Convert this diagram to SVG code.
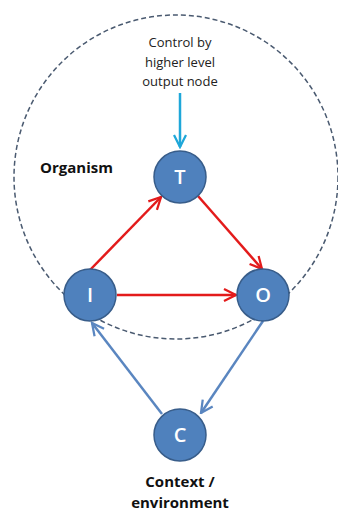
<svg xmlns="http://www.w3.org/2000/svg" width="338" height="514" viewBox="0 0 338 514">
<style>
.node{fill:#4f81bd;stroke:#385d8a;stroke-width:1.5}
.nl{font-family:"Open Sans","Liberation Sans",sans-serif;font-size:20px;font-weight:600;fill:#fff;text-anchor:middle}
.lbl{font-family:"Open Sans","Liberation Sans",sans-serif;font-size:13px;fill:#222;text-anchor:middle}
.bold{font-family:"Open Sans","Liberation Sans",sans-serif;font-size:15px;font-weight:bold;fill:#111}
.red{stroke:#e31b1b;stroke-width:2.5;fill:none}
.blue{stroke:#5a86c0;stroke-width:2.5;fill:none}
.cyan{stroke:#1ea7d9;stroke-width:2.5;fill:none}
</style>
<defs>
<marker id="ar" viewBox="0 0 10 10" refX="9" refY="5" markerWidth="6" markerHeight="6" orient="auto" markerUnits="strokeWidth"><path d="M1,1 L9,5 L1,9" fill="none" stroke="#e31b1b" stroke-width="1.5"/></marker>
<marker id="ab" viewBox="0 0 10 10" refX="9" refY="5" markerWidth="6" markerHeight="6" orient="auto" markerUnits="strokeWidth"><path d="M1,1 L9,5 L1,9" fill="none" stroke="#5a86c0" stroke-width="1.5"/></marker>
<marker id="ac" viewBox="0 0 10 10" refX="9" refY="5" markerWidth="6" markerHeight="6" orient="auto" markerUnits="strokeWidth"><path d="M1,1 L9,5 L1,9" fill="none" stroke="#1ea7d9" stroke-width="1.5"/></marker>
</defs>
<g id="organism-boundary">
<circle cx="176" cy="177" r="162" fill="none" stroke="#4a5a70" stroke-width="1.5" stroke-dasharray="5,3"/>
<text class="bold" x="40" y="173">Organism</text>
</g>
<g id="control-label">
<text class="lbl" x="180" y="47">Control by</text>
<text class="lbl" x="180" y="67">higher level</text>
<text class="lbl" x="180" y="86">output node</text>
</g>
<g id="connectors">
<line class="cyan" x1="180" y1="93" x2="180" y2="147" marker-end="url(#ac)"/>
<line class="red" x1="90" y1="270" x2="161" y2="197" marker-end="url(#ar)"/>
<line class="red" x1="198" y1="196" x2="262" y2="269" marker-end="url(#ar)"/>
<line class="red" x1="117" y1="295" x2="236" y2="295" marker-end="url(#ar)"/>
<line class="blue" x1="263" y1="321" x2="201" y2="413" marker-end="url(#ab)"/>
<line class="blue" x1="162" y1="414" x2="92" y2="323" marker-end="url(#ab)"/>
</g>
<g id="node-T"><circle class="node" cx="180" cy="177" r="26"/><text class="nl" x="180" y="184">T</text></g>
<g id="node-I"><circle class="node" cx="90" cy="295" r="26"/><text class="nl" x="90" y="302">I</text></g>
<g id="node-O"><circle class="node" cx="263" cy="295" r="26"/><text class="nl" x="263" y="302">O</text></g>
<g id="node-C"><circle class="node" cx="180" cy="435" r="26"/><text class="nl" x="180" y="442">C</text></g>
<g id="context-label">
<text class="bold" x="180" y="487" text-anchor="middle">Context /</text>
<text class="bold" x="180" y="508" text-anchor="middle">environment</text>
</g>
</svg>
